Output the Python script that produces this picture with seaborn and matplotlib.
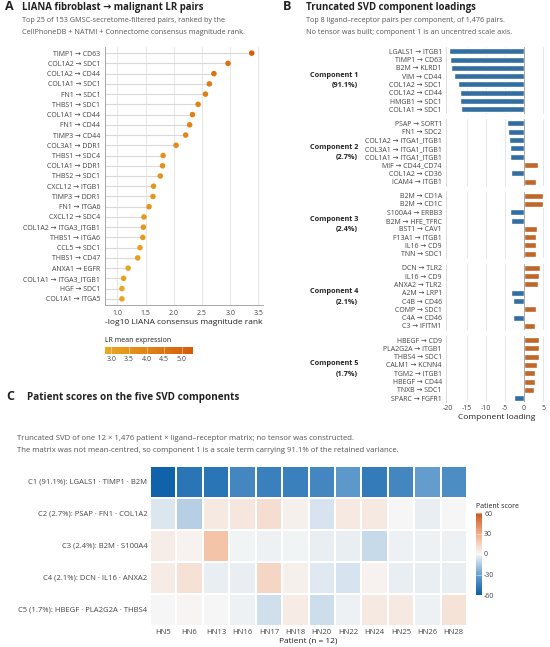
import matplotlib
matplotlib.use("Agg")
import matplotlib.pyplot as plt
from matplotlib.colors import LinearSegmentedColormap, Normalize
import matplotlib.cm as cm
import numpy as np
import pandas as pd
import seaborn as sns

sns.set_theme(style="white")
plt.rcParams['font.family'] = ['Open Sans', 'Noto Sans', 'DejaVu Sans']

# ---------------- data ----------------
# panel A: top 25 LIANA pairs
lr_pairs = ["TIMP1 → CD63", "COL1A2 → SDC1", "COL1A2 → CD44", "COL1A1 → SDC1", "FN1 → SDC1",
            "THBS1 → SDC1", "COL1A1 → CD44", "FN1 → CD44", "TIMP3 → CD44", "COL3A1 → DDR1",
            "THBS1 → SDC4", "COL1A1 → DDR1", "THBS2 → SDC1", "CXCL12 → ITGB1", "TIMP3 → DDR1",
            "FN1 → ITGA6", "CXCL12 → SDC4", "COL1A2 → ITGA3_ITGB1", "THBS1 → ITGA6", "CCL5 → SDC1",
            "THBS1 → CD47", "ANXA1 → EGFR", "COL1A1 → ITGA3_ITGB1", "HGF → SDC1", "COL1A1 → ITGA5"]
lr_rank = [3.38, 2.96, 2.71, 2.63, 2.56, 2.43, 2.33, 2.28, 2.21, 2.04,
           1.81, 1.80, 1.76, 1.64, 1.63, 1.56, 1.47, 1.46, 1.45, 1.40,
           1.36, 1.19, 1.11, 1.08, 1.08]
lr_expr = [5.2, 4.6, 4.5, 4.3, 4.2, 4.0, 4.1, 4.0, 3.9, 3.8,
           3.6, 3.6, 3.5, 3.4, 3.4, 3.5, 3.3, 3.4, 3.3, 3.1,
           3.2, 3.0, 3.1, 2.9, 3.0]

# panel B: SVD loadings, top 8 per component
comp_names = ["Component 1\n(91.1%)", "Component 2\n(2.7%)", "Component 3\n(2.4%)",
              "Component 4\n(2.1%)", "Component 5\n(1.7%)"]
comp1_pairs = ["LGALS1 → ITGB1", "TIMP1 → CD63", "B2M → KLRD1", "VIM → CD44",
               "COL1A2 → SDC1", "COL1A2 → CD44", "HMGB1 → SDC1", "COL1A1 → SDC1"]
comp1_load = [-19.8, -19.4, -19.25, -18.4, -17.4, -16.8, -16.7, -16.6]
comp2_pairs = ["PSAP → SORT1", "FN1 → SDC2", "COL1A2 → ITGA1_ITGB1", "COL3A1 → ITGA1_ITGB1",
               "COL1A1 → ITGA1_ITGB1", "MIF → CD44_CD74", "COL1A2 → CD36", "ICAM4 → ITGB1"]
comp2_load = [-4.6, -4.35, -4.0, -3.65, -3.6, 3.6, -3.4, 3.2]
comp3_pairs = ["B2M → CD1A", "B2M → CD1C", "S100A4 → ERBB3", "B2M → HFE_TFRC",
               "BST1 → CAV1", "F13A1 → ITGB1", "IL16 → CD9", "TNN → SDC1"]
comp3_load = [4.9, 4.9, -3.8, -3.4, 3.4, 3.2, 3.1, 3.1]
comp4_pairs = ["DCN → TLR2", "IL16 → CD9", "ANXA2 → TLR2", "A2M → LRP1",
               "C4B → CD46", "COMP → SDC1", "C4A → CD46", "C3 → IFITM1"]
comp4_load = [4.1, 3.9, 3.7, -3.4, -3.05, 3.05, -2.9, 2.9]
comp5_pairs = ["HBEGF → CD9", "PLA2G2A → ITGB1", "THBS4 → SDC1", "CALM1 → KCNN4",
               "TGM2 → ITGB1", "HBEGF → CD44", "TNXB → SDC1", "SPARC → FGFR1"]
comp5_load = [4.0, 4.0, 3.8, 3.5, 2.9, 2.8, 2.7, -2.7]

# panel C: patient scores
patients = ["HN5", "HN6", "HN13", "HN16", "HN17", "HN18", "HN20", "HN22", "HN24", "HN25", "HN26", "HN28"]
comp_rows = ["C1 (91.1%): LGALS1 · TIMP1 · B2M", "C2 (2.7%): PSAP · FN1 · COL1A2",
             "C3 (2.4%): B2M · S100A4", "C4 (2.1%): DCN · IL16 · ANXA2",
             "C5 (1.7%): HBEGF · PLA2G2A · THBS4"]
c1_scores = [-58, -50, -50, -42, -45, -45, -42, -34, -47, -42, -32, -39]
c2_scores = [-6, -14, 6, 7, 10, 3, -7, 6, 6, 0, -3, 0]
c3_scores = [4, 2, 21, -1, -2, -1, -3, -3, -10, -2, -2, -2]
c4_scores = [5, 9, -3, -3, 14, 3, -5, -7, 2, -3, -3, -3]
c5_scores = [0, 1, 0, -2, -8, 5, -9, -2, 6, 6, -2, 8]

# ---------------- helpers ----------------
W, H = 550, 647
def fx(x): return x / W
def fy(y): return 1 - y / H

BLUE = "#1f6fb4"
ORANGE = "#d8620f"
TXT = "#222222"
SUB = "#555555"
TICK = "#444444"
TITLE_FS = 6.9
SUB_FS = 5.2

fig = plt.figure(figsize=(5.5, 6.47), dpi=100)

# ---------------- panel A ----------------
expr_cmap = LinearSegmentedColormap.from_list("expr", ["#eaa920", "#d45b0b"])
expr_norm = Normalize(2.82, 5.32)
dfa = pd.DataFrame({"pair": lr_pairs, "rank": lr_rank, "expr": lr_expr})

axA = fig.add_axes([fx(105), fy(305), fx(263) - fx(105), fy(47) - fy(305)])
axA.set_xlim(0.78, 3.58)
for t in [1.0, 1.5, 2.0, 2.5, 3.0, 3.5]:
    axA.axvline(t, color="#e6e6e6", lw=0.7, zorder=0)
axA.hlines(np.arange(len(lr_pairs)), 0.78, dfa["rank"], color="#d9d9d9", lw=0.8, zorder=1)
sns.scatterplot(data=dfa, x="rank", y="pair", hue="expr", palette=expr_cmap, hue_norm=expr_norm,
                s=16, edgecolor="none", legend=False, ax=axA, zorder=3)
axA.set_ylim(len(lr_pairs) - 0.4, -0.6)
axA.set_xticks([1.0, 1.5, 2.0, 2.5, 3.0, 3.5])
axA.set_xticklabels(["1.0", "1.5", "2.0", "2.5", "3.0", "3.5"])
axA.set_xlabel("-log10 LIANA consensus magnitude rank", fontsize=6, color=TXT, labelpad=1.5)
axA.set_ylabel("")
axA.tick_params(axis="both", labelsize=5, colors=TICK, length=2, width=0.5, pad=1.5)
for s in ["top", "right"]:
    axA.spines[s].set_visible(False)
for s in ["left", "bottom"]:
    axA.spines[s].set_color("#999999")
    axA.spines[s].set_linewidth(0.6)

caxA = fig.add_axes([fx(105), fy(354), fx(193) - fx(105), fy(347) - fy(354)])
cbA = fig.colorbar(cm.ScalarMappable(norm=expr_norm, cmap=expr_cmap), cax=caxA, orientation="horizontal")
cbA.set_ticks([3.0, 3.5, 4.0, 4.5, 5.0])
cbA.set_ticklabels(["3.0", "3.5", "4.0", "4.5", "5.0"])
cbA.outline.set_visible(False)
caxA.tick_params(labelsize=5, colors=TICK, length=0, pad=1.5)
for t in [3.0, 3.5, 4.0, 4.5, 5.0]:
    caxA.axvline(t, color="white", lw=0.5, alpha=0.6)
fig.text(fx(105), fy(340), "LR mean expression", fontsize=5, color=TXT, ha="left", va="center")

fig.text(fx(5), fy(7), "A", fontsize=9, fontweight="bold", color=TXT, va="center")
fig.text(fx(22), fy(7.5), "LIANA fibroblast → malignant LR pairs", fontsize=TITLE_FS, fontweight="bold",
         color=TXT, va="center")
fig.text(fx(22), fy(20.5), "Top 25 of 153 GMSC-secretome-filtered pairs, ranked by the",
         fontsize=SUB_FS, color=SUB, va="center")
fig.text(fx(22), fy(32), "CellPhoneDB + NATMI + Connectome consensus magnitude rank.",
         fontsize=SUB_FS, color=SUB, va="center")

# ---------------- panel B ----------------
comp_pairs = [comp1_pairs, comp2_pairs, comp3_pairs, comp4_pairs, comp5_pairs]
comp_loads = [comp1_load, comp2_load, comp3_load, comp4_load, comp5_load]
x_ticks = [-20, -15, -10, -5, 0, 5]
for i in range(5):
    top = 47.1 + i * 72.2
    ax = fig.add_axes([fx(446), fy(top + 66.4), fx(547) - fx(446), fy(top) - fy(top + 66.4)])
    dfb = pd.DataFrame({"pair": comp_pairs[i], "loading": comp_loads[i]})
    dfb["sign"] = np.where(dfb["loading"] < 0, "neg", "pos")
    for t in x_ticks[1:]:
        ax.axvline(t, color="#e6e6e6", lw=0.7, zorder=0)
    sns.barplot(data=dfb, x="loading", y="pair", hue="sign", palette={"neg": BLUE, "pos": ORANGE},
                orient="h", dodge=False, width=0.72, legend=False, ax=ax, zorder=2)
    ax.axvline(0, color="#aaaaaa", lw=0.7, zorder=3)
    ax.set_xlim(-20.5, 6.0)
    ax.set_ylim(7.5, -0.5)
    ax.set_ylabel("")
    ax.tick_params(axis="y", labelsize=5, colors=TICK, length=0, pad=3)
    for s in ["top", "right", "bottom"]:
        ax.spines[s].set_visible(False)
    ax.spines["left"].set_color("#dddddd")
    ax.spines["left"].set_linewidth(0.7)
    ax.set_xticks(x_ticks)
    if i < 4:
        ax.tick_params(axis="x", length=0, labelbottom=False)
        ax.set_xlabel("")
    else:
        ax.set_xticklabels([str(t) for t in x_ticks])
        ax.tick_params(axis="x", labelsize=5, colors=TICK, length=0, pad=2)
        ax.set_xlabel("Component loading", fontsize=6, color=TXT, labelpad=1.5)
    fig.text(fx(358), fy(top + 33.2), comp_names[i], fontsize=5.2, fontweight="bold", color=TXT,
             ha="right", va="center", multialignment="right", linespacing=1.7)

fig.text(fx(283), fy(7), "B", fontsize=9, fontweight="bold", color=TXT, va="center")
fig.text(fx(306.5), fy(7.5), "Truncated SVD component loadings", fontsize=TITLE_FS, fontweight="bold",
         color=TXT, va="center")
fig.text(fx(306.5), fy(20.5), "Top 8 ligand–receptor pairs per component, of 1,476 pairs.",
         fontsize=SUB_FS, color=SUB, va="center")
fig.text(fx(306.5), fy(32.5), "No tensor was built; component 1 is an uncentred scale axis.",
         fontsize=SUB_FS, color=SUB, va="center")

# ---------------- panel C ----------------
score_cmap = LinearSegmentedColormap.from_list(
    "score", ["#0a5fa8", "#6aa1d0", "#f7f7f7", "#f2ae87", "#c9581c"])
dfc = pd.DataFrame([c1_scores, c2_scores, c3_scores, c4_scores, c5_scores],
                   index=comp_rows, columns=patients)
axC = fig.add_axes([fx(150), fy(626), fx(467) - fx(150), fy(466.5) - fy(626)])
caxC = fig.add_axes([fx(475.6), fy(595), fx(482) - fx(475.6), fy(513) - fy(595)])
sns.heatmap(dfc, cmap=score_cmap, vmin=-60, vmax=60, center=0, linewidths=1.3, linecolor="white",
            cbar_ax=caxC, ax=axC)
axC.set_xlabel("Patient (n = 12)", fontsize=6, color=TXT, labelpad=1.5)
axC.set_ylabel("")
axC.tick_params(axis="both", labelsize=5.5, colors=TICK, length=0, pad=2)
axC.set_yticklabels(comp_rows, rotation=0)
axC.set_xticklabels(patients, rotation=0)
caxC.set_yticks([-60, -30, 0, 30, 60])
caxC.set_yticklabels(["-60", "-30", "0", "30", "60"])
caxC.tick_params(labelsize=5, colors=TICK, length=0, pad=1.5)
for t in [-60, -30, 0, 30, 60]:
    caxC.axhline(t, color="white", lw=0.5, alpha=0.6)
fig.text(fx(476), fy(507), "Patient score", fontsize=5, color=TXT, ha="left", va="center")

fig.text(fx(6), fy(397), "C", fontsize=9, fontweight="bold", color=TXT, va="center")
fig.text(fx(27), fy(397.5), "Patient scores on the five SVD components", fontsize=7.1,
         fontweight="bold", color=TXT, va="center")
fig.text(fx(17), fy(438), "Truncated SVD of one 12 × 1,476 patient × ligand–receptor matrix; "
         "no tensor was constructed.", fontsize=5.6, color=SUB, va="center")
fig.text(fx(17), fy(451), "The matrix was not mean-centred, so component 1 is a scale term carrying "
         "91.1% of the retained variance.", fontsize=5.6, color=SUB, va="center")

fig.savefig("out.png", dpi=100)
